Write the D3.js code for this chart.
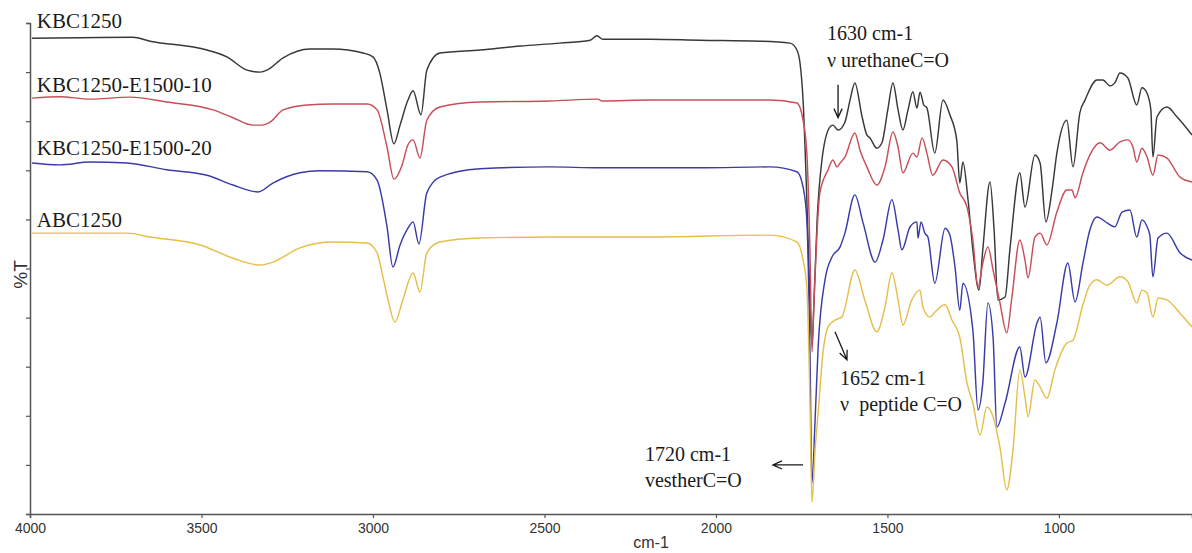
<!DOCTYPE html>
<html>
<head>
<meta charset="utf-8">
<script src="https://cdn.jsdelivr.net/npm/d3@7"></script>
<style>
  html, body { margin: 0; padding: 0; background: #fff; }
  svg { display: block; }
  .serif { font-family: "Liberation Serif", "Times New Roman", serif; fill: #1a1a1a; }
  .sans { font-family: "Liberation Sans", Arial, sans-serif; fill: #333; }
</style>
</head>
<body>
<svg id="chart" width="1192" height="553"></svg>
<script>
// ---- Data (wavenumber cm-1, %T) ----
const kbc1250 = [
  [3994,96.9],[3854,97.0],[3700,97.1],[3650,96.3],[3484,94.5],[3426,93.1],[3367,90.4],[3329,90.0],
  [3309,90.4],[3262,92.9],[3184,94.7],[3117,94.7],[3029,93.9],[3000,93.1],[2980,89.8],[2959,82.3],
  [2939,75.4],[2921,79.2],[2898,84.3],[2883,86.2],[2860,81.3],[2843,90.4],[2805,93.9],[2688,94.5],
  [2571,95.3],[2455,95.9],[2367,96.5],[2347,97.4],[2330,96.7],[2192,96.7],[2047,96.5],[1872,96.3],
  [1784,95.9],[1764,94.5],[1755,91.9],[1746,84.3],[1735,64.0],[1726,43.6],[1720,34.4],[1714,43.6],
  [1705,59.9],[1691,72.1],[1668,78.8],[1659,79.2],[1644,78.2],[1624,79.8],[1609,84.3],[1595,87.8],
  [1574,80.9],[1560,77.2],[1551,76.6],[1531,74.5],[1516,75.6],[1499,82.3],[1484,87.8],[1469,82.3],
  [1455,78.2],[1440,82.3],[1426,86.0],[1414,82.7],[1405,85.9],[1394,83.3],[1385,82.7],[1362,73.5],
  [1338,84.3],[1318,81.3],[1298,76.2],[1289,67.4],[1280,71.7],[1265,64.0],[1251,53.8],[1233,45.6],
  [1222,53.8],[1201,67.6],[1189,57.8],[1178,43.6],[1157,44.2],[1143,53.8],[1114,69.5],[1099,62.5],
  [1070,73.1],[1055,71.5],[1038,59.5],[1020,66.0],[1006,73.5],[977,80.2],[959,70.7],[939,81.7],
  [924,84.3],[889,88.4],[872,88.4],[851,87.2],[837,87.8],[822,89.8],[799,88.8],[773,83.3],
  [758,86.8],[743,85.7],[732,82.3],[726,72.7],[714,80.9],[685,82.9],[656,80.9],[612,77.2]
];
const kbc1250_e1500_10 = [
  [3994,84.7],[3913,85.0],[3825,84.5],[3708,84.9],[3601,83.9],[3466,82.3],[3408,80.7],[3350,79.2],
  [3324,79.2],[3300,79.8],[3262,82.3],[3192,83.3],[3117,83.5],[3017,83.5],[2988,82.3],[2959,74.7],
  [2939,68.2],[2915,71.1],[2898,75.2],[2883,76.2],[2863,72.5],[2843,80.2],[2805,82.9],[2688,83.9],
  [2484,84.1],[2344,84.5],[2332,84.1],[2192,84.3],[1843,84.3],[1764,83.7],[1746,80.2],[1735,73.5],
  [1726,53.8],[1720,33.0],[1714,43.6],[1705,57.8],[1697,65.4],[1673,70.1],[1659,72.1],[1647,70.7],
  [1638,71.5],[1624,72.7],[1595,77.6],[1580,74.1],[1560,70.7],[1531,67.0],[1507,70.7],[1484,77.8],
  [1469,74.7],[1455,69.5],[1426,73.5],[1414,72.7],[1399,76.6],[1385,73.5],[1368,69.0],[1338,72.1],
  [1312,70.7],[1289,65.4],[1268,62.5],[1251,55.8],[1236,46.2],[1222,51.1],[1207,54.4],[1192,49.7],
  [1172,43.0],[1152,36.9],[1137,44.2],[1114,55.8],[1099,51.7],[1090,48.1],[1070,56.4],[1055,57.2],
  [1035,54.8],[1006,61.5],[977,66.0],[962,66.0],[953,64.4],[930,69.5],[910,73.1],[880,75.6],
  [851,74.1],[822,75.8],[799,76.2],[784,74.7],[773,71.7],[758,74.5],[743,72.7],[726,69.0],
  [711,73.1],[685,72.5],[647,68.6],[612,67.6]
];
const kbc1250_e1500_20 = [
  [3994,71.5],[3913,71.1],[3825,71.7],[3717,71.5],[3601,70.1],[3484,69.0],[3408,67.0],[3335,65.6],
  [3292,67.4],[3213,69.5],[3154,69.9],[3017,69.7],[2988,68.0],[2959,58.5],[2942,50.3],[2921,54.8],
  [2898,58.2],[2883,59.5],[2866,55.0],[2843,65.4],[2805,68.6],[2688,70.3],[2484,70.7],[2338,70.5],
  [2047,70.5],[1843,70.7],[1764,69.7],[1746,66.6],[1735,59.9],[1726,33.4],[1720,6.3],[1711,19.1],
  [1702,34.0],[1682,47.7],[1662,52.3],[1638,54.4],[1624,57.2],[1595,65.0],[1571,59.3],[1536,51.3],
  [1513,55.8],[1487,64.0],[1469,57.8],[1458,53.8],[1434,58.5],[1414,59.5],[1411,56.2],[1402,59.5],
  [1391,57.2],[1382,56.4],[1362,47.0],[1332,58.2],[1318,56.8],[1303,50.3],[1289,41.5],[1280,47.0],
  [1251,37.5],[1236,21.2],[1222,26.7],[1207,43.0],[1192,36.0],[1181,17.7],[1157,22.6],[1114,34.0],
  [1099,27.9],[1064,38.9],[1055,40.1],[1038,30.8],[1006,38.9],[974,51.1],[953,43.2],[930,51.1],
  [910,57.8],[889,60.5],[860,59.3],[837,58.5],[816,61.5],[793,61.9],[773,56.4],[758,59.9],
  [743,58.5],[735,56.8],[726,48.3],[711,56.2],[685,57.2],[647,53.2],[612,51.7]
];
const abc1250 = [
  [3994,57.2],[3717,57.2],[3650,56.4],[3504,54.8],[3408,52.1],[3329,50.7],[3292,51.3],[3213,54.2],
  [3117,55.4],[3017,55.2],[2988,53.2],[2971,48.3],[2956,43.6],[2936,39.1],[2913,43.6],[2883,49.1],
  [2863,45.2],[2843,53.2],[2805,55.4],[2688,56.2],[2484,56.4],[2192,56.4],[1843,56.8],[1764,55.4],
  [1746,51.7],[1735,46.2],[1726,23.2],[1720,2.4],[1711,13.0],[1702,20.6],[1688,32.8],[1673,38.1],
  [1653,39.5],[1633,40.1],[1595,49.7],[1566,43.6],[1531,37.1],[1507,42.2],[1487,49.1],[1469,43.6],
  [1455,38.5],[1429,43.6],[1405,45.6],[1397,42.2],[1376,40.1],[1362,41.1],[1332,42.6],[1312,39.5],
  [1289,36.0],[1268,26.7],[1251,22.6],[1230,16.1],[1210,21.8],[1192,19.8],[1172,13.6],[1152,4.9],
  [1134,13.0],[1114,29.3],[1099,23.8],[1090,19.8],[1070,27.3],[1055,25.9],[1035,23.6],[1012,29.3],
  [977,34.8],[959,35.4],[930,42.6],[910,46.6],[889,47.7],[860,46.6],[822,48.3],[799,47.3],
  [773,43.0],[758,45.6],[743,45.0],[726,40.1],[711,44.0],[685,43.6],[647,40.9],[612,38.1]
];

const seriesNames = ["KBC1250", "KBC1250-E1500-10", "KBC1250-E1500-20", "ABC1250"];
const seriesColors = ["#383838", "#c64f58", "#3b3ba8", "#e5bf4c"];
const seriesLabelY = [99.0, 85.9, 73.1, 58.5];   // %T at which each name sits
const labelWn = 3980;

const xTicks = [4000, 3500, 3000, 2500, 2000, 1500, 1000];
const yTicks = [0, 10, 20, 30, 40, 50, 60, 70, 80, 90, 100];
const xTitle = "cm-1";
const yTitle = "%T";

// annotations: text position (wn, %T), arrow from/to (wn, %T)
const annoText = [
  {wn: 1676, t: 96.5, lines: ["1630 cm-1", "ν urethaneC=O"]},
  {wn: 1638, t: 26.3, lines: ["1652 cm-1", "ν  peptide C=O"]},
  {wn: 2207, t: 10.8, lines: ["1720 cm-1", "vestherC=O"]}
];
const annoArrows = [
  {from: [1644, 87.4], to: [1644, 80.7]},
  {from: [1653, 37.1], to: [1618, 31.4]},
  {from: [1746, 10.0], to: [1834, 10.0]}
];

// ---- Chart ----
const svg = d3.select("#chart");
const W = 1192, H = 553;
const x = d3.scaleLinear().domain([4000, 612]).range([30, 1192]);
const y = d3.scaleLinear().domain([0, 100]).range([514, 23]);

svg.append("defs").append("clipPath").attr("id", "clip")
  .append("rect").attr("x", 30).attr("y", 0).attr("width", W - 30).attr("height", 514);

const line = d3.line()
  .x(d => x(d[0]))
  .y(d => y(d[1]))
  .curve(d3.curveMonotoneX);

const allSeries = [kbc1250, kbc1250_e1500_10, kbc1250_e1500_20, abc1250];
const g = svg.append("g").attr("clip-path", "url(#clip)");
allSeries.forEach((s, i) => {
  g.append("path")
    .datum(s)
    .attr("fill", "none")
    .attr("stroke", seriesColors[i])
    .attr("stroke-width", 1.45)
    .attr("stroke-linejoin", "round")
    .attr("d", line);
});

// axes
const xAxis = d3.axisBottom(x).tickValues(xTicks).tickSize(4).tickPadding(5).tickFormat(d3.format("d"));
const xg = svg.append("g").attr("transform", "translate(0,514)").call(xAxis);
xg.select(".domain").attr("stroke", "#555").attr("stroke-width", 1.5);
xg.selectAll(".tick line").attr("stroke", "#555").attr("stroke-width", 1.2);
xg.selectAll(".tick text").attr("fill", "#333")
  .style("font-size", "14px")
  .style("font-family", "'Liberation Sans', Arial, sans-serif");

const yAxis = d3.axisLeft(y).tickValues(yTicks).tickSize(4).tickFormat("");
const yg = svg.append("g").attr("transform", "translate(30,0)").call(yAxis);
yg.select(".domain").attr("stroke", "#555").attr("stroke-width", 1.5);
yg.selectAll(".tick line").attr("stroke", "#555").attr("stroke-width", 1.2);

svg.append("text").attr("class", "sans")
  .attr("x", 651).attr("y", 548)
  .attr("text-anchor", "middle")
  .style("font-size", "16px")
  .text(xTitle);

svg.append("text").attr("class", "sans")
  .attr("transform", `translate(27,${y(48.8)}) rotate(-90)`)
  .attr("text-anchor", "middle")
  .style("font-size", "19px")
  .text(yTitle);

// series labels
seriesNames.forEach((n, i) => {
  svg.append("text").attr("class", "serif")
    .attr("x", x(labelWn)).attr("y", y(seriesLabelY[i]))
    .style("font-size", "21px")
    .text(n);
});

// annotations
annoText.forEach(a => {
  const t = svg.append("text").attr("class", "serif")
    .attr("x", x(a.wn)).attr("y", y(a.t))
    .style("font-size", "20px")
    .style("white-space", "pre");
  a.lines.forEach((l, k) => {
    t.append("tspan").attr("x", x(a.wn)).attr("dy", k === 0 ? 0 : 26.5).text(l);
  });
});

annoArrows.forEach(a => {
  const x1 = x(a.from[0]), y1 = y(a.from[1]), x2 = x(a.to[0]), y2 = y(a.to[1]);
  const ang = Math.atan2(y2 - y1, x2 - x1);
  const hl = 10, ha = 0.42;
  const p = d3.path();
  p.moveTo(x1, y1); p.lineTo(x2, y2);
  p.moveTo(x2 - hl * Math.cos(ang - ha), y2 - hl * Math.sin(ang - ha));
  p.lineTo(x2, y2);
  p.lineTo(x2 - hl * Math.cos(ang + ha), y2 - hl * Math.sin(ang + ha));
  svg.append("path").attr("d", p.toString())
    .attr("fill", "none").attr("stroke", "#1a1a1a").attr("stroke-width", 1.3);
});
</script>
</body>
</html>
